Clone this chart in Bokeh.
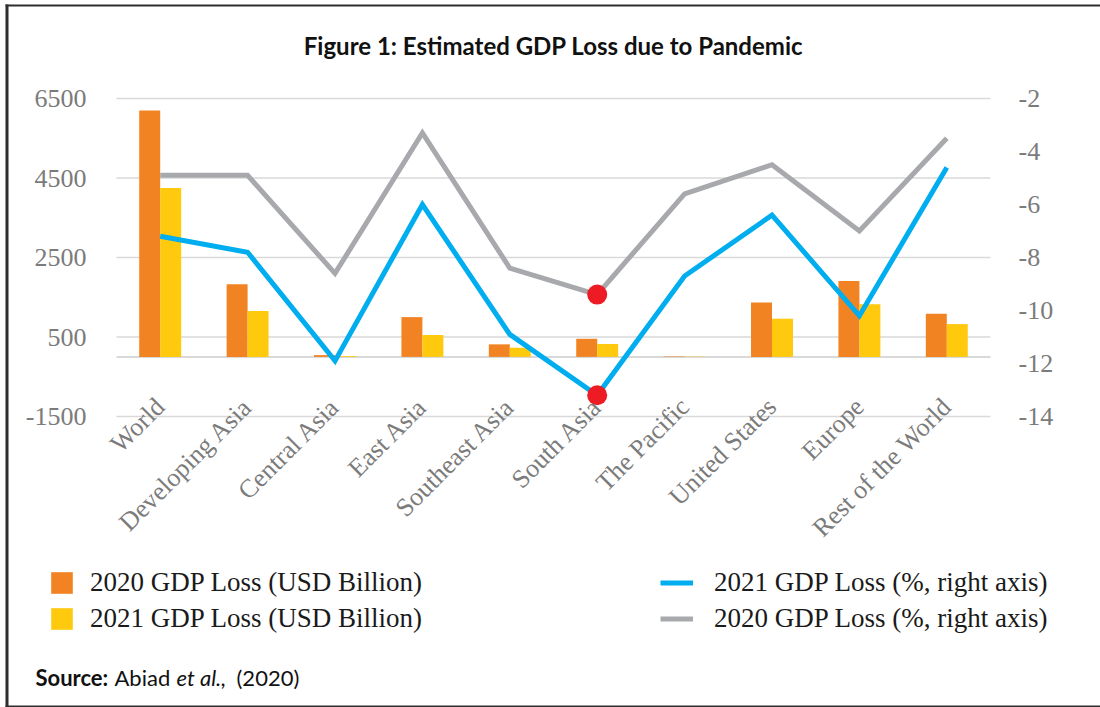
from math import pi
from bokeh.plotting import figure
from bokeh.models import (Range1d, LinearAxis, FixedTicker, Legend, LegendItem, Label,
                          BoxAnnotation, ColumnDataSource)
from bokeh.transform import dodge
from bokeh.embed import file_html
from bokeh.resources import INLINE

# ---------------- data ----------------
categories = ["World", "Developing Asia", "Central Asia", "East Asia", "Southeast Asia",
              "South Asia", "The Pacific", "United States", "Europe", "Rest of the World"]
loss_2020_usd = [6200, 1830, 45, 1000, 315, 455, 12, 1365, 1910, 1085]
loss_2021_usd = [4250, 1155, 20, 550, 230, 325, 8, 960, 1325, 825]
loss_2021_pct = [-7.2, -7.8, -11.9, -6.0, -10.9, -13.2, -8.7, -6.4, -10.2, -4.6]
loss_2020_pct = [-4.9, -4.9, -8.6, -3.3, -8.4, -9.4, -5.6, -4.5, -7.0, -3.5]
left_ticks = [-1500, 500, 2500, 4500, 6500]
right_ticks = [-14, -12, -10, -8, -6, -4, -2]
highlight_category = "South Asia"
series_names = ["2020 GDP Loss (USD Billion)", "2021 GDP Loss (USD Billion)",
                "2021 GDP Loss (%, right axis)", "2020 GDP Loss (%, right axis)"]
title_text = "Figure 1: Estimated GDP Loss due to Pandemic"

# ---------------- style / layout ----------------
ORANGE = "#F28322"
YELLOW = "#FFC90E"
BLUE = "#00AEEF"
GRAY = "#A7A9AC"
RED = "#ED1C24"
GRID = "#D9D9D9"
TICK_TXT = "#7B7B7B"
FRAME = "#2E2E2E"
SERIF = "Liberation Serif"
SANS = "Lato"

W, H = 1100, 707
PL, PR, PT, PB = 116, 990, 98, 416          # plot area in canvas pixels
n = len(categories)
xppu = (PR - PL) / n
lo, hi_ = left_ticks[0], left_ticks[-1]
yppu = (PB - PT) / (hi_ - lo)
rlo, rhi = right_ticks[0], right_ticks[-1]
rppu = (PB - PT) / (rhi - rlo)

p = figure(width=W, height=H, output_backend="svg", toolbar_location=None,
           x_axis_type=None, y_axis_type=None, min_border=0,
           x_range=Range1d(-0.5 - PL / xppu, n - 0.5 + (W - PR) / xppu),
           y_range=Range1d(lo - (H - PB) / yppu, hi_ + PT / yppu))
p.extra_y_ranges = {"pct": Range1d(rlo - (H - PB) / rppu, rhi + PT / rppu),
                    "py": Range1d(0, H)}
p.extra_x_ranges = {"px": Range1d(0, W)}
p.outline_line_color = None
p.background_fill_color = "white"
p.border_fill_color = "white"
p.xgrid.visible = False
p.ygrid.visible = False

idx = list(range(n))
src = ColumnDataSource(dict(i=idx, a=loss_2020_usd, b=loss_2021_usd,
                            c=loss_2021_pct, d=loss_2020_pct))

# horizontal gridlines (at the left-axis ticks) and the zero baseline
p.segment(x0=-0.5, x1=n - 0.5, y0=left_ticks, y1=left_ticks, line_color=GRID,
          line_width=1.5)
p.segment(x0=[-0.5], x1=[n - 0.5], y0=[0], y1=[0], line_color=GRID, line_width=2)

r1 = p.vbar(x=dodge("i", -0.12), top="a", bottom=0, width=0.24, source=src,
            fill_color=ORANGE, line_color=None)
r2 = p.vbar(x=dodge("i", 0.12), top="b", bottom=0, width=0.24, source=src,
            fill_color=YELLOW, line_color=None)
r4 = p.line(x="i", y="d", source=src, y_range_name="pct", line_color=GRAY,
            line_width=5, line_join="miter")
r3 = p.line(x="i", y="c", source=src, y_range_name="pct", line_color=BLUE,
            line_width=5, line_join="miter")

hi = categories.index(highlight_category)
p.scatter(x=[hi, hi], y=[loss_2020_pct[hi], loss_2021_pct[hi]], y_range_name="pct",
          size=20, fill_color=RED, line_color=None)

# axes
left = LinearAxis(ticker=FixedTicker(ticks=left_ticks), fixed_location=-0.5,
                  major_label_overrides={t: str(t) for t in left_ticks},
                  major_label_standoff=24)
right = LinearAxis(y_range_name="pct", ticker=FixedTicker(ticks=right_ticks),
                   fixed_location=n - 0.5,
                   major_label_overrides={t: str(t) for t in right_ticks},
                   major_label_standoff=22)
bottom = LinearAxis(ticker=FixedTicker(ticks=idx), fixed_location=lo,
                    major_label_overrides={i: c for i, c in enumerate(categories)},
                    major_label_orientation=pi / 4, major_label_standoff=-20)
p.add_layout(left, "left")
p.add_layout(right, "right")
p.add_layout(bottom, "below")
for ax in (left, right, bottom):
    ax.axis_line_color = None
    ax.major_tick_line_color = None
    ax.minor_tick_line_color = None
    ax.major_label_text_font = SERIF
    ax.major_label_text_font_size = "26px"
    ax.major_label_text_color = TICK_TXT

# legends
common = dict(label_height=30, spacing=5, padding=0, margin=0,
              border_line_color=None, background_fill_alpha=0,
              label_text_font=SERIF, label_text_font_size="27px",
              label_text_color="#1A1A1A", glyph_height=27)
leg1 = Legend(items=[LegendItem(label=series_names[0], renderers=[r1]),
                     LegendItem(label=series_names[1], renderers=[r2])],
              location=(48, H - 634), glyph_width=27, label_standoff=15, **common)
leg2 = Legend(items=[LegendItem(label=series_names[2], renderers=[r3]),
                     LegendItem(label=series_names[3], renderers=[r4])],
              location=(660, H - 634), glyph_width=33, label_standoff=21, **common)
p.add_layout(leg1, "center")
p.add_layout(leg2, "center")

# title and source (positions in canvas pixels, y measured from the top)
def lab(x, y_top, text, **kw):
    p.add_layout(Label(x=x, y=H - y_top, x_range_name="px", y_range_name="py",
                       text=text, text_baseline="middle", **kw))

lab(553, 45, title_text, text_align="center", text_font=SANS, text_font_style="bold",
    text_font_size="24px", text_color="#111111")
for txt, style, x0 in [("Source:", "bold", 35), ("Abiad", "normal", 114),
                       ("et al.,", "italic", 176), ("(2020)", "normal", 236)]:
    lab(x0, 677, txt, text_align="left", text_font=SANS, text_font_style=style,
        text_font_size="22px", text_color="#111111")

# outer frame lines of the figure box
for l, r, t, b in [(5, 8, 4, H), (5, W, 4, 6), (5, W, H - 2, H)]:
    p.add_layout(BoxAnnotation(left=l, right=r, top=H - t, bottom=H - b,
                               x_range_name="px", y_range_name="py",
                               fill_color=FRAME, fill_alpha=1, line_color=None))

open("out.html", "w").write(file_html(p, INLINE))
